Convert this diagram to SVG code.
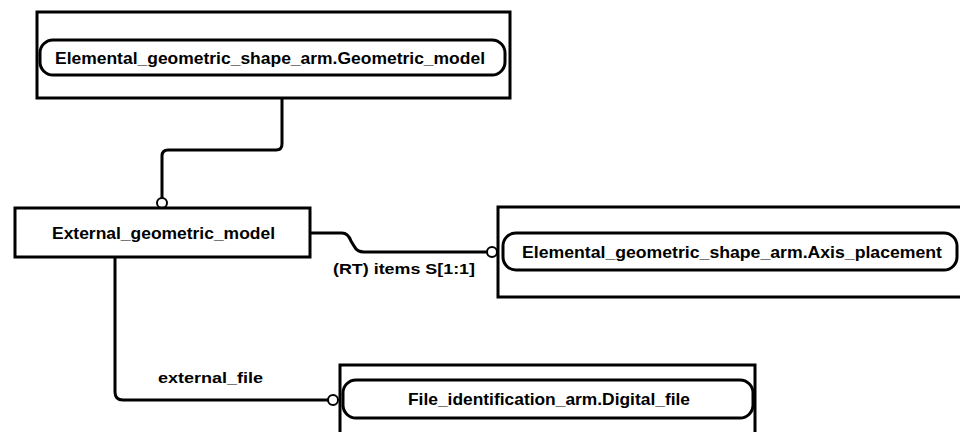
<svg xmlns="http://www.w3.org/2000/svg" width="960" height="432" viewBox="0 0 960 432">
<style>
.box{fill:#fff;stroke:#000;stroke-width:3}
.pill{fill:#fff;stroke:#000;stroke-width:3}
.t{font-family:"Liberation Sans",Arial,sans-serif;font-weight:bold;font-size:16.5px;fill:#000}
.lbl{font-family:"Liberation Sans",Arial,sans-serif;font-weight:bold;font-size:15px;fill:#000}
.c{fill:none;stroke:#000;stroke-width:3}
.o{fill:#fff;stroke:#000;stroke-width:2}
</style>
<rect width="960" height="432" fill="#fff"/>
<g id="connectors">
<path class="c" d="M282,98 V144 Q282,150 276,150 H168 Q162,150 162,156 V198"/>
<circle class="o" cx="162" cy="203" r="5"/>
<path class="c" d="M310,233 H342 Q348,233 351,241 L354,246 Q357,252 364,252 H487"/>
<circle class="o" cx="492" cy="252" r="5"/>
<path class="c" d="M115,257 V392 Q115,400 123,400 H328"/>
<circle class="o" cx="333" cy="400" r="5"/>
<text class="lbl" x="333" y="274" textLength="142" lengthAdjust="spacingAndGlyphs">(RT) items S[1:1]</text>
<text class="lbl" x="158" y="383" textLength="105" lengthAdjust="spacingAndGlyphs">external_file</text>
</g>
<g id="geometric_model">
<rect class="box" x="37" y="12" width="473" height="86"/>
<rect class="pill" x="40" y="40" width="465" height="35" rx="13"/>
<text class="t" x="55" y="63.5" textLength="430" lengthAdjust="spacingAndGlyphs">Elemental_geometric_shape_arm.Geometric_model</text>
</g>
<g id="external_geometric_model">
<rect class="box" x="15" y="208" width="295" height="49"/>
<text class="t" x="52" y="238.5" textLength="223" lengthAdjust="spacingAndGlyphs">External_geometric_model</text>
</g>
<g id="axis_placement">
<rect class="box" x="498" y="207" width="470" height="90"/>
<rect class="pill" x="503" y="233" width="454" height="37" rx="13"/>
<text class="t" x="522" y="257.5" textLength="420" lengthAdjust="spacingAndGlyphs">Elemental_geometric_shape_arm.Axis_placement</text>
</g>
<g id="digital_file">
<rect class="box" x="340" y="365" width="415" height="80"/>
<rect class="pill" x="343" y="380" width="410" height="38" rx="13"/>
<text class="t" x="408" y="404.5" textLength="282" lengthAdjust="spacingAndGlyphs">File_identification_arm.Digital_file</text>
</g>
</svg>
